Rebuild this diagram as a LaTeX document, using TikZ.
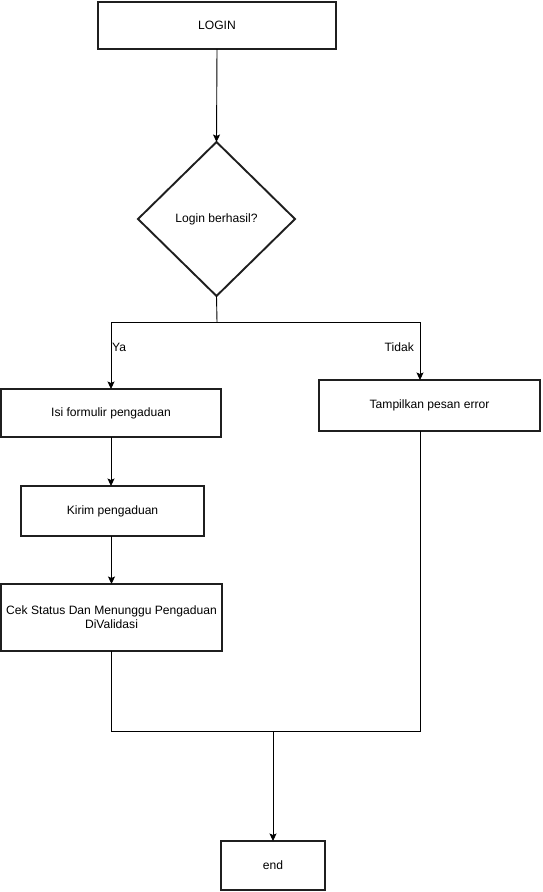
\documentclass[tikz,border=0pt]{standalone}
\usepackage{fontspec}
\setmainfont{Liberation Sans}
\usetikzlibrary{shapes.geometric,arrows.meta,calc}

\begin{document}
\begin{tikzpicture}[x=1pt,y=-1pt,
  every node/.style={font=\fontsize{12.1}{14.8}\selectfont, text=black},
  procbox/.style={draw=black!88, line width=1.9pt, rectangle, inner sep=0pt, outer sep=0pt, align=center},
  decbox/.style={draw=black!88, line width=1.9pt, diamond, aspect=1, inner sep=0pt, outer sep=0pt},
  link/.style={draw=black, line width=0.9pt},
  arrow/.style={link, -{Stealth[length=7.5pt,width=7pt,inset=1.5pt]}},
  branchlabel/.style={inner sep=1pt}
]
\useasboundingbox (0,0) rectangle (542,892);

% process and decision nodes
\node[procbox, minimum width=238, minimum height=47] (login) at (217,25.5) {LOGIN};
\node[decbox, minimum width=157, minimum height=154] (dec) at (216.5,219) {Login berhasil?};
\node[procbox, minimum width=220, minimum height=48] (isi) at (111,413) {Isi formulir pengaduan};
\node[procbox, minimum width=221, minimum height=51] (tamp) at (429.5,405.5) {Tampilkan pesan error};
\node[procbox, minimum width=183, minimum height=50] (kirim) at (112.5,511) {Kirim pengaduan};
\node[procbox, minimum width=221, minimum height=67] (cek) at (111.5,617.5) {Cek Status Dan Menunggu Pengaduan\\[-1pt]DiValidasi};
\node[procbox, minimum width=104, minimum height=49] (end) at (273,865.5) {end};

% junction points of the branching and merging lines
\coordinate (split) at (217,322);
\coordinate (merge) at (273,731);
\coordinate (tampin) at ([xshift=-9.5]tamp.north);
\coordinate (tampout) at ([xshift=-9.5]tamp.south);

% connectors
\draw[arrow] (login.south) -- (dec.north);
\draw[link] (dec.south) -- (split);
\draw[arrow] (split) -| (isi.north);
\draw[arrow] (split) -| (tampin);
\draw[arrow] (isi.south) -- (isi.south |- kirim.north);
\draw[arrow] (cek.north |- kirim.south) -- (cek.north);
\draw[link] (cek.south) |- (merge);
\draw[link] (tampout) |- (merge);
\draw[arrow] (merge) -- (end.north);

% branch labels
\node[branchlabel, anchor=west] (ya) at (111,347) {Ya};
\node[branchlabel, anchor=east] (tidak) at (415,347) {Tidak};
\end{tikzpicture}
\end{document}
